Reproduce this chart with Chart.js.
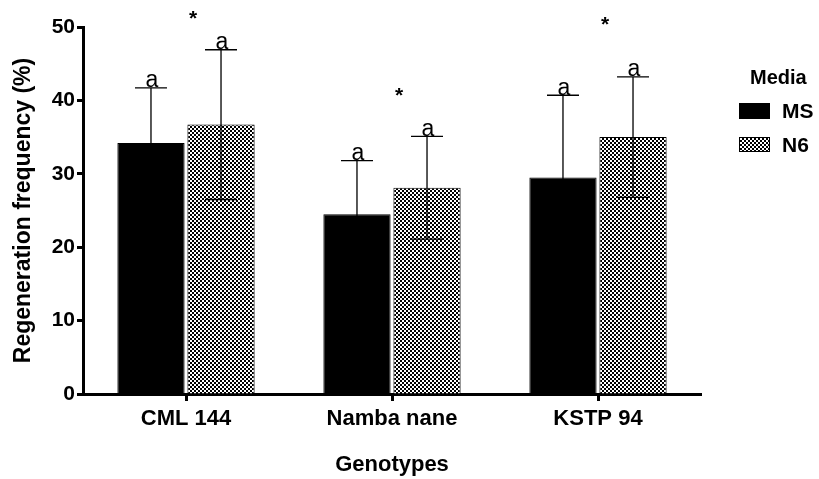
<!DOCTYPE html>
<html>
<head>
<meta charset="utf-8">
<script src="https://cdn.jsdelivr.net/npm/chart.js@4.4.1/dist/chart.umd.min.js"></script>
<style>
html,body{margin:0;padding:0;background:#fff;}
canvas{display:block;}
</style>
</head>
<body>
<canvas id="c" width="819" height="479"></canvas>
<script>
// ---- data ----
const categories = ["CML 144", "Namba nane", "KSTP 94"];
const msMeans = [34.2, 24.5, 29.5];
const msSD = [7.5, 7.3, 11.2];
const n6Means = [36.7, 28.1, 35.0];
const n6SD = [10.2, 7.0, 8.2];
const msLetters = ["a", "a", "a"];
const n6Letters = ["a", "a", "a"];
const starValues = [51.8, 41.3, 50.9];
const yTicks = [0, 10, 20, 30, 40, 50];
const seriesNames = ["MS", "N6"];
const legendTitle = "Media";

// checker pattern
function makePattern() {
  const p = document.createElement('canvas');
  p.width = 4; p.height = 4;
  const g = p.getContext('2d');
  g.fillStyle = '#fff'; g.fillRect(0, 0, 4, 4);
  g.fillStyle = '#000';
  g.fillRect(0, 0, 2, 2); g.fillRect(2, 2, 2, 2);
  return g.createPattern(p, 'repeat');
}
const ctx = document.getElementById('c').getContext('2d');
const checker = makePattern();
const FONT = "'Liberation Sans', Arial, sans-serif";

const errorPlugin = {
  id: 'errs',
  afterDatasetsDraw(chart) {
    const c = chart.ctx;
    const ys = chart.scales.y;
    const xs = chart.scales.x;
    const sds = [msSD, n6SD];
    const means = [msMeans, n6Means];
    const letters = [msLetters, n6Letters];
    c.save();
    c.strokeStyle = '#000';
    c.lineWidth = 1.3;
    for (let d = 0; d < 2; d++) {
      const meta = chart.getDatasetMeta(d);
      meta.data.forEach((el, j) => {
        const x = el.x;
        const yTop = ys.getPixelForValue(means[d][j] + sds[d][j]);
        const yLow = ys.getPixelForValue(means[d][j] - sds[d][j]);
        c.beginPath();
        c.moveTo(x, yTop); c.lineTo(x, yLow);
        c.moveTo(x - 16, yTop); c.lineTo(x + 16, yTop);
        c.moveTo(x - 16, yLow); c.lineTo(x + 16, yLow);
        c.stroke();
        c.fillStyle = '#000';
        c.font = "23px " + FONT;
        c.textAlign = 'center';
        c.textBaseline = 'alphabetic';
        c.fillText(letters[d][j], x + 1, yTop - 0.5);
      });
    }
    // significance stars
    c.font = "bold 21px " + FONT;
    c.textAlign = 'center';
    c.textBaseline = 'alphabetic';
    starValues.forEach((v, j) => {
      const x = xs.getPixelForTick(j) + 7;
      const y = ys.getPixelForValue(v);
      c.fillText('*', x, y + 11);
    });
    c.restore();
  },
  afterDraw(chart) {
    const c = chart.ctx;
    c.save();
    c.fillStyle = '#000';
    c.textBaseline = 'middle';
    c.textAlign = 'left';
    c.font = "bold 20px " + FONT;
    c.fillText(legendTitle, 750, 78);
    c.font = "bold 21px " + FONT;
    // MS
    c.fillStyle = '#000';
    c.fillRect(739, 103, 31, 16);
    c.fillText(seriesNames[0], 782, 112);
    // N6
    c.fillStyle = checker;
    c.fillRect(739, 137, 31, 15);
    c.strokeStyle = '#000'; c.lineWidth = 1;
    c.strokeRect(739.5, 137.5, 30, 14);
    c.fillStyle = '#000';
    c.fillText(seriesNames[1], 782, 146);
    c.restore();
  }
};

new Chart(ctx, {
  type: 'bar',
  data: {
    labels: categories,
    datasets: [
      { label: seriesNames[0], data: msMeans, backgroundColor: '#000', borderColor: '#000', borderWidth: 1,
        categoryPercentage: 0.68, barPercentage: 0.96 },
      { label: seriesNames[1], data: n6Means, backgroundColor: checker, borderColor: '#000', borderWidth: 1,
        categoryPercentage: 0.68, barPercentage: 0.96 }
    ]
  },
  options: {
    responsive: false,
    animation: false,
    devicePixelRatio: 1,
    layout: { padding: { top: 27, right: 118, left: 0, bottom: 0 } },
    plugins: { legend: { display: false }, tooltip: { enabled: false } },
    scales: {
      x: {
        offset: true,
        grid: { display: true, drawOnChartArea: false, offset: false, tickLength: 7, tickWidth: 3, tickColor: '#000' },
        border: { display: true, width: 3, color: '#000' },
        ticks: { color: '#000', font: { family: FONT, weight: 'bold', size: 22 }, padding: 5, maxRotation: 0 },
        title: { display: true, text: 'Genotypes', color: '#000', font: { family: FONT, weight: 'bold', size: 22 }, padding: { top: 4, bottom: 1 } },
        afterFit(scale) { scale.height = 85; }
      },
      y: {
        min: 0, max: 50,
        afterBuildTicks(scale) { scale.ticks = yTicks.map(v => ({ value: v })); },
        grid: { display: true, drawOnChartArea: false, tickLength: 6, tickWidth: 3, tickColor: '#000' },
        border: { display: true, width: 3, color: '#000' },
        ticks: { color: '#000', font: { family: FONT, weight: 'bold', size: 21 }, padding: 2 },
        title: { display: true, text: 'Regeneration frequency (%)', color: '#000', font: { family: FONT, weight: 'bold', size: 23 }, padding: { top: 10, bottom: 0 } },
        afterFit(scale) { scale.width = 83; }
      }
    }
  },
  plugins: [errorPlugin]
});
</script>
</body>
</html>
